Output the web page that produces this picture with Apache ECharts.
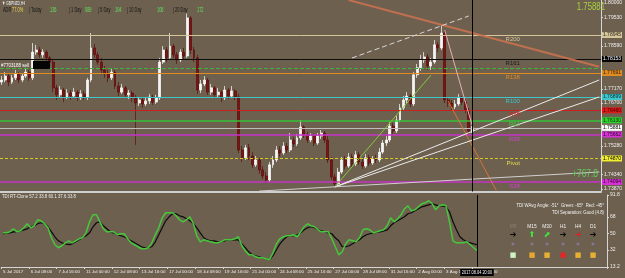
<!DOCTYPE html>
<html><head><meta charset="utf-8">
<script src="https://cdn.jsdelivr.net/npm/echarts@6/dist/echarts.min.js"></script>
<style>html,body{margin:0;padding:0;background:#6d604f;overflow:hidden}#c{width:625px;height:278px}</style>
</head><body><div id="c"></div>
<script>
// ---------- DATA ----------
const days = ['5 Jul','6 Jul','7 Jul','10 Jul','11 Jul','12 Jul','13 Jul','14 Jul','17 Jul','18 Jul','19 Jul','20 Jul','21 Jul','24 Jul','25 Jul','26 Jul','27 Jul','28 Jul','31 Jul','1 Aug','2 Aug','3 Aug','4 Aug'];
const hours = ['00:00','04:00','08:00','12:00','16:00','20:00'];
const futureSlots = 37;

const openP = [1.7739,1.7746,1.7759,1.7739,1.7753,1.7766,1.7746,1.7759,1.7772,1.7753,
1.7838,1.7845,1.7829,1.7838,1.7819,1.7805,1.7720,1.7697,1.7713,1.7690,
1.7703,1.7693,1.7706,1.7687,1.7700,1.7690,1.7746,1.7852,1.7829,1.7805,
1.7779,1.7766,1.7753,1.7772,1.7726,1.7706,1.7720,1.7697,1.7703,1.7687,
1.7670,1.7680,1.7667,1.7677,1.7690,1.7673,1.7687,1.7805,1.7845,1.7819,
1.7858,1.7829,1.7812,1.7838,1.7825,1.7951,1.7845,1.7819,1.7713,1.7733,
1.7746,1.7706,1.7720,1.7697,1.7706,1.7687,1.7713,1.7693,1.7710,1.7690,
1.7515,1.7489,1.7522,1.7495,1.7466,1.7482,1.7449,1.7429,1.7416,1.7466,
1.7482,1.7515,1.7505,1.7528,1.7515,1.7548,1.7535,1.7555,1.7591,1.7565,
1.7548,1.7561,1.7538,1.7561,1.7571,1.7548,1.7482,1.7426,1.7403,1.7442,
1.7482,1.7462,1.7492,1.7469,1.7499,1.7475,1.7462,1.7489,1.7472,1.7485,
1.7482,1.7508,1.7538,1.7548,1.7594,1.7578,1.7614,1.7654,1.7680,1.7693,
1.7667,1.7763,1.7786,1.7812,1.7822,1.7792,1.7805,1.7862,1.7852,1.7901,
1.7680,1.7670,1.7657,1.7667,1.7687,1.7673,1.7647,1.7578];
const closeP = [1.7746,1.7759,1.7739,1.7753,1.7766,1.7746,1.7759,1.7772,1.7753,1.7838,
1.7845,1.7829,1.7838,1.7819,1.7805,1.7720,1.7697,1.7713,1.7690,1.7703,
1.7693,1.7706,1.7687,1.7700,1.7690,1.7746,1.7852,1.7829,1.7805,1.7779,
1.7766,1.7753,1.7772,1.7726,1.7706,1.7720,1.7697,1.7703,1.7687,1.7670,
1.7680,1.7667,1.7677,1.7690,1.7673,1.7687,1.7805,1.7845,1.7819,1.7858,
1.7829,1.7812,1.7838,1.7825,1.7951,1.7845,1.7819,1.7713,1.7733,1.7746,
1.7706,1.7720,1.7697,1.7706,1.7687,1.7713,1.7693,1.7710,1.7690,1.7515,
1.7489,1.7522,1.7495,1.7466,1.7482,1.7449,1.7429,1.7416,1.7466,1.7482,
1.7515,1.7505,1.7528,1.7515,1.7548,1.7535,1.7555,1.7591,1.7565,1.7548,
1.7561,1.7538,1.7561,1.7571,1.7548,1.7482,1.7426,1.7403,1.7442,1.7482,
1.7462,1.7492,1.7469,1.7499,1.7475,1.7462,1.7489,1.7472,1.7485,1.7482,
1.7508,1.7538,1.7548,1.7594,1.7578,1.7614,1.7654,1.7680,1.7693,1.7667,
1.7763,1.7786,1.7812,1.7822,1.7792,1.7805,1.7862,1.7852,1.7901,1.7680,
1.7670,1.7657,1.7667,1.7687,1.7673,1.7647,1.7578,1.75881];
const highP = [1.7759,1.7772,1.7766,1.7763,1.7779,1.7772,1.7769,1.7786,1.7779,1.7868,
1.7862,1.7855,1.7848,1.7845,1.7825,1.7812,1.7730,1.7726,1.7720,1.7716,
1.7713,1.7720,1.7713,1.7713,1.7710,1.7753,1.7901,1.7865,1.7838,1.7819,
1.7792,1.7779,1.7782,1.7779,1.7739,1.7733,1.7726,1.7713,1.7710,1.7697,
1.7690,1.7687,1.7690,1.7700,1.7697,1.7697,1.7819,1.7858,1.7855,1.7901,
1.7865,1.7838,1.7848,1.7852,1.7967,1.7957,1.7855,1.7829,1.7746,1.7759,
1.7753,1.7733,1.7726,1.7720,1.7713,1.7726,1.7720,1.7726,1.7716,1.7700,
1.7528,1.7532,1.7535,1.7508,1.7495,1.7489,1.7462,1.7442,1.7475,1.7495,
1.7528,1.7528,1.7541,1.7538,1.7571,1.7558,1.7568,1.7614,1.7597,1.7574,
1.7571,1.7568,1.7571,1.7581,1.7578,1.7561,1.7492,1.7436,1.7456,1.7492,
1.7495,1.7505,1.7502,1.7512,1.7508,1.7489,1.7502,1.7499,1.7495,1.7499,
1.7522,1.7548,1.7561,1.7607,1.7604,1.7627,1.7667,1.7693,1.7706,1.7700,
1.7772,1.7799,1.7829,1.7838,1.7832,1.7819,1.7878,1.7871,1.7928,1.7911,
1.7690,1.7680,1.7680,1.7700,1.7693,1.7683,1.7654,1.7594];
const lowP = [1.7730,1.7739,1.7726,1.7733,1.7746,1.7736,1.7739,1.7753,1.7743,1.7746,
1.7829,1.7819,1.7819,1.7809,1.7792,1.7706,1.7680,1.7690,1.7673,1.7683,
1.7680,1.7687,1.7677,1.7680,1.7680,1.7680,1.7739,1.7819,1.7796,1.7769,
1.7753,1.7739,1.7746,1.7716,1.7693,1.7700,1.7687,1.7683,1.7673,1.7532,
1.7660,1.7654,1.7660,1.7667,1.7664,1.7667,1.7680,1.7799,1.7805,1.7812,
1.7819,1.7799,1.7805,1.7812,1.7819,1.7832,1.7805,1.7700,1.7703,1.7726,
1.7697,1.7697,1.7687,1.7690,1.7673,1.7680,1.7683,1.7687,1.7680,1.7505,
1.7475,1.7482,1.7482,1.7456,1.7459,1.7436,1.7419,1.7406,1.7409,1.7456,
1.7475,1.7492,1.7499,1.7505,1.7508,1.7525,1.7528,1.7548,1.7555,1.7538,
1.7541,1.7528,1.7532,1.7551,1.7538,1.7472,1.7416,1.7393,1.7396,1.7436,
1.7452,1.7456,1.7459,1.7462,1.7466,1.7452,1.7456,1.7462,1.7466,1.7472,
1.7475,1.7502,1.7528,1.7541,1.7568,1.7571,1.7607,1.7647,1.7670,1.7657,
1.7660,1.7753,1.7776,1.7802,1.7779,1.7779,1.7799,1.7838,1.7845,1.7670,
1.7657,1.7647,1.7650,1.7660,1.7664,1.7637,1.7568,1.7571];

const tdiGreen = [50.5,50.5,51.6,54.9,51.6,52.7,56.0,60.4,56.0,58.2,
64.7,63.6,60.4,56.0,45.1,37.5,34.2,36.4,39.6,41.8,
39.6,41.8,44.0,45.1,50.5,62.5,70.2,70.2,62.5,54.9,
51.6,51.6,51.6,48.4,49.5,49.5,44.0,39.6,37.5,35.3,
33.1,33.1,34.2,39.6,48.4,56.0,66.9,72.4,72.4,72.4,
69.1,64.7,62.5,64.7,68.0,60.4,47.3,40.7,42.9,41.8,
40.7,39.6,39.6,40.7,42.9,42.9,42.9,44.0,46.2,36.4,
30.9,26.5,26.5,24.4,23.3,23.3,22.2,21.1,28.7,38.5,
44.0,46.2,47.3,47.3,48.4,46.2,51.6,57.1,60.4,58.2,
57.1,53.8,51.6,51.6,51.6,44.0,35.3,26.5,29.8,38.5,
42.9,41.8,40.7,45.1,53.8,54.9,53.8,50.5,51.6,52.7,
53.8,58.2,66.9,62.5,65.8,70.2,76.7,80.0,74.5,75.6,
78.9,82.2,83.3,85.5,82.2,75.6,80.0,81.1,80.0,62.5,
41.8,39.6,39.6,39.6,40.7,37.5,34.2,30.9];
const tdiSignal = [49.5,50.5,50.5,51.6,51.6,52.7,53.8,54.9,57.1,58.2,
60.4,61.5,60.4,57.1,51.6,46.2,41.8,39.6,38.5,37.5,
38.5,40.7,42.9,45.1,47.3,50.5,57.1,61.5,62.5,58.2,
54.9,51.6,50.5,48.4,47.3,46.2,44.0,41.8,39.6,37.5,
35.3,34.2,34.2,35.3,40.7,48.4,56.0,63.6,68.0,71.3,
71.3,69.1,68.0,65.8,63.6,60.4,56.0,50.5,45.1,42.9,
41.8,41.8,40.7,40.7,41.8,42.9,42.9,42.9,42.9,38.5,
34.2,29.8,26.5,25.5,24.4,23.3,22.2,21.1,25.5,32.0,
38.5,42.9,46.2,47.3,47.3,48.4,50.5,53.8,56.0,57.1,
56.0,53.8,52.7,51.6,50.5,49.5,45.1,41.8,35.3,35.3,
36.4,38.5,40.7,42.9,46.2,48.4,49.5,50.5,51.6,51.6,
52.7,53.8,58.2,61.5,63.6,65.8,68.0,71.3,72.4,74.5,
76.7,78.9,80.0,81.1,82.2,81.1,80.0,80.0,78.9,73.5,
62.5,53.8,46.2,42.9,40.7,39.6,38.5,37.5];

const priceTicks = [1.80000,1.79530,1.78590,1.77170,1.76700,1.75280,1.74340,1.73870];
const tdiTicks = [13.2,32,50,68,91.8];
const levelNames  = ['R200','R161','','R138','R100','R78','R61','','R38','Pivot','S38'];
const levelPrices = [1.78945,1.78153,1.77856,1.77691,1.76899,1.76460,1.76130,1.75881,1.75662,1.74870,1.74094];
const trendFrom = [[101,1.80100],[102,1.78186],[130,1.76767],[129,1.79110],[97,1.73930],[97,1.73930],[97,1.73930],[75,1.73794]];
const trendTo   = [[174,1.77896],[136,1.79572],[144,1.73820],[137,1.75960],[125,1.77620],[174,1.77460],[174,1.76900],[174,1.74424]];
const crossIndex = 137;
const adrItems = ['ADR','77.0%','| Today','136','| 1 Day','089','| 5 Day','104','| 10 Day','106','| 20 Day','172'];
const tfHeaders = ['M5','M15','M30','H1','H4','D1'];

// ---------- STYLE ----------
const NF = '"Liberation Sans",Arial,sans-serif';
const levelLook = [
  {c:'#d4c59b', w:1,   t:'solid', box:'#d4c59b', bt:'#2a2418', tc:'#d4c59b'},
  {c:'#0c0c0c', w:1,   t:'solid', box:'#050505', bt:'#ffffff', tc:'#1a1a1a'},
  {c:'#3fb23f', w:1,   t:[4,2]},
  {c:'#e08c20', w:1,   t:'solid', box:'#e08c20', bt:'#2a1a08', tc:'#e08c20'},
  {c:'#3fc6cc', w:1,   t:'solid', box:'#3fc6cc', bt:'#0a2a2a', tc:'#3fc6cc'},
  {c:'#cc2020', w:1,   t:'solid', box:'#dd1a1a', bt:'#3a0000', tc:'#dd2020'},
  {c:'#36c236', w:1.5, t:'solid', box:'#2ed12e', bt:'#0a2a0a', tc:'#40d040'},
  {c:'#bdbdbd', w:1,   t:'solid', box:'#ffffff', bt:'#000000'},
  {c:'#c832c8', w:1.5, t:'solid', box:'#d633d6', bt:'#2a002a', tc:'#d040d0'},
  {c:'#d4cc22', w:1,   t:[3,2],   box:'#f2ee30', bt:'#000000', tc:'#e6de50'},
  {c:'#c832c8', w:1.5, t:'solid', box:'#d633d6', bt:'#2a002a', tc:'#d040d0'}
];
const trendLook = [
  {color:'#c9714f', width:2, opacity:0.9},
  {color:'#d8d8d8', width:1, type:[5,3]},
  {color:'#d8743a', width:1},
  {color:'#e6b0b6', width:1},
  {color:'#86c83c', width:1},
  {color:'#ececec', width:1},
  {color:'#ececec', width:1},
  {color:'#d0d0d0', width:1}
];

const categories = [];
days.forEach(d => hours.forEach(h => categories.push(d + ' ' + h)));
for (let k = 1; k <= futureSlots; k++) categories.push('f' + k);
const lastBar = openP.length - 1;
const labelInterval = (idx) => idx % 8 === 0 && idx <= lastBar;

const candles = openP.map((o, i) => [o, closeP[i], lowP[i], highP[i]]);

const ml = [];
levelPrices.forEach((p, i) => {
  const s = levelLook[i];
  ml.push({yAxis: p, lineStyle: {color: s.c, width: s.w, type: s.t, opacity: 1},
    label: s.box ? {show: true, position: 'end', distance: 1, formatter: p.toFixed(5),
      backgroundColor: s.box, color: s.bt, fontSize: 5, fontFamily: NF, padding: [1, 1, 0, 1]} : {show: false}});
  if (levelNames[i]) ml.push({yAxis: p, lineStyle: {color: 'rgba(0,0,0,0)', width: 1, opacity: 1},
    label: {show: true, position: 'insideEndBottom', distance: [81, 1.5], formatter: levelNames[i],
      color: s.tc, fontSize: 6, fontFamily: NF, opacity: 1}});
});
trendFrom.forEach((a, k) => {
  ml.push([{coord: a, lineStyle: Object.assign({type: 'solid'}, trendLook[k]), label: {show: false}}, {coord: trendTo[k]}]);
});
ml.push({xAxis: crossIndex, lineStyle: {color: '#000', width: 1, type: 'solid'}, label: {show: false}});

// graphic texts
const g = [];
function txt(x, y, text, fill, size, align, sx, extra) {
  g.push({type: 'text', x: x, y: y, scaleX: sx || 1, z: 100, silent: true,
    style: Object.assign({text: text, fill: fill, fontSize: size, fontFamily: NF, align: align || 'left', verticalAlign: 'middle'}, extra || {})});
}
txt(2, 3, '\u25BC GBPNZD,H4', '#f0f0f0', 5.5, 'left', 0.6);
const adrX = [3, 12, 29, 50, 69, 85, 98, 115, 127, 157, 173, 197];
adrItems.forEach((t, i) => {
  const fill = i === 1 ? '#eddb4a' : (i % 2 === 1 ? '#5ee65e' : '#141414');
  txt(adrX[i], 10, t, fill, 7, 'left', 0.56);
});
g.push({type: 'rect', z: 100, silent: true, shape: {x: 33, y: 61, width: 17, height: 8}, style: {fill: '#050505'}});
txt(1, 65, '#7703188 sell', '#ffffff', 5.5, 'left', 0.82);
txt(605, 7, '1.75881', '#a9d13f', 10, 'right', 0.78);
txt(598, 174, '+767.8', '#62d062', 10, 'right', 0.84);
txt(2, 196.5, 'TDI RT-Clone 57.2 33.8 60.1 37.6 33.8', '#eeeeee', 5.5, 'left', 0.78);
txt(604, 205, 'TDI WAvg Angle: -51\u00B0  Green: -65\u00B0  Red: -45\u00B0', '#f2f2f2', 6, 'right', 0.72);
txt(604, 212, 'TDI Separation: Good (4.8)', '#f2f2f2', 6, 'right', 0.72);
const colX = [513, 532, 547, 563, 578, 593];
tfHeaders.forEach((h, i) => txt(colX[i], 226, h, i === 0 ? '#8a7f70' : '#f2f2f2', 6, 'center', 0.8));
const arrows = ['\u2794', '\u2B06', '\u2B08', '\u2794', '\u2794', '\u2794'];
const arrowCol = ['#050505', '#3ee83e', '#3ee83e', '#050505', '#e02020', '#050505'];
arrows.forEach((a, i) => g.push({type: 'text', x: colX[i], y: 235, z: 100, silent: true,
  style: {text: a, fill: arrowCol[i], fontSize: 8, fontFamily: '"DejaVu Sans",sans-serif', align: 'center', verticalAlign: 'middle'}}));
colX.forEach(x => g.push({type: 'text', x: x, y: 244, z: 100, silent: true,
  style: {text: '\u25CF', fill: '#7f7890', fontSize: 4, fontFamily: '"DejaVu Sans",sans-serif', align: 'center', verticalAlign: 'middle'}}));
const sqCol = ['#c8f5c0', '#e8a830', '#e8b030', '#e02828', '#e8b030', '#e8b030'];
colX.forEach((x, i) => g.push({type: 'text', x: x, y: 255, z: 100, silent: true,
  style: {text: '\u25A0', fill: sqCol[i], fontSize: 7, fontFamily: '"DejaVu Sans",sans-serif', align: 'center', verticalAlign: 'middle'}}));
txt(477, 272.5, '2017.08.04 20:00', '#ffffff', 5, 'center', 0.78, {backgroundColor: '#000000', padding: [1, 2]});

const axisTxt = {color: '#efefef', fontSize: 5, fontFamily: NF};

const option = {
  backgroundColor: '#6d604f',
  animation: false,
  grid: [
    {left: 0, right: 18, top: 0, height: 191.5},
    {left: 0, right: 18, top: 195, height: 72}
  ],
  xAxis: [
    {type: 'category', gridIndex: 0, data: categories, boundaryGap: true,
      axisLine: {show: true, lineStyle: {color: '#cfcfcf', width: 2}},
      axisTick: {show: false}, axisLabel: {show: false}, splitLine: {show: false}},
    {type: 'category', gridIndex: 1, data: categories, boundaryGap: true,
      axisLine: {show: true, lineStyle: {color: '#d6d6d6', width: 1}},
      axisTick: {show: true, interval: labelInterval, length: 2, lineStyle: {color: '#d6d6d6'}},
      axisLabel: Object.assign({}, axisTxt, {show: true, interval: labelInterval, align: 'left', margin: 3, fontSize: 4.4,
        formatter: (v, idx) => idx === 0 ? '5 Jul 2017' : v}),
      splitLine: {show: false}}
  ],
  yAxis: [
    {type: 'value', gridIndex: 0, position: 'right', min: 1.7378, max: 1.8010,
      axisLine: {show: true, lineStyle: {color: '#d6d6d6'}},
      axisTick: {show: true, length: 2, customValues: priceTicks, lineStyle: {color: '#d6d6d6'}},
      axisLabel: Object.assign({show: true, margin: 3, customValues: priceTicks, formatter: v => v.toFixed(5)}, axisTxt),
      splitLine: {show: false}},
    {type: 'value', gridIndex: 1, position: 'right', min: 13.2, max: 91.8,
      axisLine: {show: true, lineStyle: {color: '#d6d6d6'}},
      axisTick: {show: true, length: 2, customValues: tdiTicks, lineStyle: {color: '#d6d6d6'}},
      axisLabel: Object.assign({show: true, margin: 3, customValues: tdiTicks, formatter: v => String(v)}, axisTxt),
      splitLine: {show: false}}
  ],
  series: [
    {type: 'candlestick', xAxisIndex: 0, yAxisIndex: 0, data: candles, barWidth: 2.4,
      itemStyle: {color: '#f4f4f4', color0: '#7c1414', borderColor: '#ffffff', borderColor0: '#5e0c0c', borderWidth: 0.7},
      markLine: {silent: true, precision: 6, symbol: ['none', 'none'], animation: false, label: {show: false}, data: ml}},
    {type: 'line', xAxisIndex: 1, yAxisIndex: 1, data: tdiSignal, showSymbol: false, silent: true,
      lineStyle: {color: '#0a0a0a', width: 1.2},
      markLine: {silent: true, precision: 6, symbol: ['none', 'none'], animation: false, label: {show: false},
        data: [{xAxis: crossIndex, lineStyle: {color: '#000', width: 1, type: 'solid'}}]}},
    {type: 'line', xAxisIndex: 1, yAxisIndex: 1, data: tdiGreen, showSymbol: false, silent: true,
      lineStyle: {color: '#46c83c', width: 1.5}}
  ],
  graphic: g
};
const chart = echarts.init(document.getElementById('c'), null, {renderer: 'canvas', width: 625, height: 278});
chart.setOption(option);
</script>
</body></html>
